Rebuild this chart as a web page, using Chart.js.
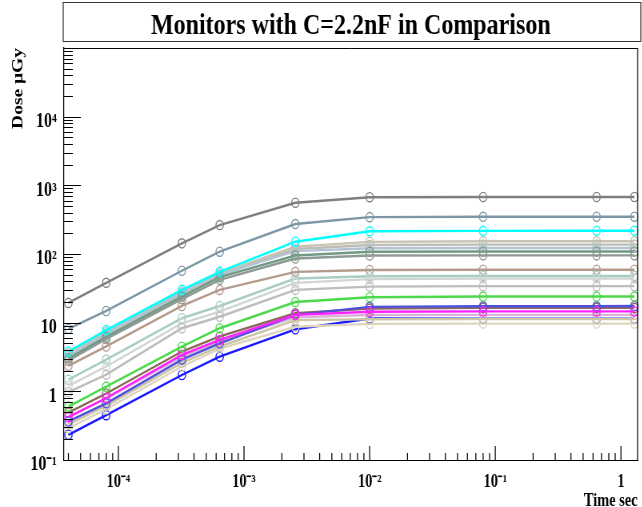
<!DOCTYPE html>
<html><head><meta charset="utf-8">
<script src="https://cdn.jsdelivr.net/npm/chart.js@4/dist/chart.umd.min.js"></script>
<style>
html,body{margin:0;padding:0;background:#fff;overflow:hidden;}
#wrap{position:absolute;left:0;top:0;width:803px;height:507px;transform:scaleX(0.8);transform-origin:0 0;}
canvas{display:block;}
</style></head><body>
<div id="wrap"><canvas id="c" width="803" height="507"></canvas></div>
<script>
// ---- data ----
const times = [4e-5, 8e-5, 3.2e-4, 6.4e-4, 2.56e-3, 0.01, 0.08, 0.64, 1.28];

const darkGray       = [19.4, 38, 143, 264, 558, 672, 676, 676, 676];
const slateGray      = [8.1, 14.8, 57, 108, 273, 344, 348, 349, 349];
const cyan           = [3.8, 7.8, 30, 55, 151, 214, 217, 218, 218];
const beige          = [3.6, 7.3, 28, 52, 128, 150, 153, 153, 153];
const lightGrayBeige = [3.1, 6.6, 26, 49, 118, 135, 137, 137, 137];
const lightSteel     = [3.3, 6.9, 27, 50, 110, 121, 122, 122, 122];
const seaGreenGray   = [3.0, 6.2, 24, 46, 95, 108, 109, 109, 109];
const grayGreen      = [2.8, 5.8, 22, 42, 86, 95, 95.5, 95.5, 95.5];
const rosyBrown      = [2.35, 4.5, 17.5, 30, 55, 58.5, 59, 59, 59];
const paleTeal       = [1.48, 2.9, 11.6, 17.5, 44, 47.5, 48, 48, 48];
const paleGray       = [1.2, 2.3, 9.8, 14.5, 38, 43, 44, 44, 44];
const lightGray      = [0.97, 1.75, 8.3, 12.2, 30, 33.5, 34, 34, 34];
const green          = [0.60, 1.17, 4.47, 8.3, 20, 23.5, 24, 24, 24];
const brown          = [0.49, 0.93, 3.8, 6.3, 13.7, 16, 16.4, 16.4, 16.4];
const slateBlue      = [0.365, 0.67, 2.9, 5.0, 13, 17, 17.3, 17.3, 17.5];
const magenta        = [0.42, 0.8, 3.4, 5.6, 13, 14.4, 14.6, 14.6, 14.6];
const pink           = [0.43, 0.78, 3.2, 5.3, 12, 12.9, 13, 13, 13];
const khaki          = [0.33, 0.62, 2.6, 4.5, 10.9, 11.2, 11.3, 11.3, 11.3];
const lightKhaki     = [0.29, 0.55, 2.3, 4.2, 8.7, 9.6, 9.7, 9.7, 9.7];
const blue           = [0.233, 0.45, 1.73, 3.2, 8.0, 11.5, 11.4, 11.4, 11.4];

// drawing order: first entry ends up on top
const seriesValues = [cyan, green, magenta, slateBlue, brown, darkGray, slateGray,
  khaki, lightKhaki, pink, blue, lightGray, paleGray, paleTeal, rosyBrown,
  grayGreen, seaGreenGray, lightSteel, lightGrayBeige, beige];
const seriesColors = ['#00ffff', '#4cd94c', '#ff22ff', '#5050dd', '#8b6a5a', '#7f7f7f', '#7d97a5',
  '#cbc5a5', '#dcd6c0', '#d7b4d7', '#1a1aff', '#bdbdbd', '#cfd6d3', '#a9cdc3', '#b49a8c',
  '#8e9a93', '#6f9a84', '#b3c3d3', '#bdbdb5', '#c9c3b3'];

const xTickValues = [1e-4, 1e-3, 1e-2, 1e-1, 1];
const xTickLabels = ['10\u207B\u2074', '10\u207B\u00B3', '10\u207B\u00B2', '10\u207B\u00B9', '1'];
const yTickValues = [0.1, 1, 10, 100, 1000, 10000];
const yTickLabels = ['10\u207B\u00B9', '1', '10', '10\u00B2', '10\u00B3', '10\u2074'];

const titleText = 'Monitors with C=2.2nF in Comparison';
const xTitle = 'Time sec';
const yTitle = 'Dose \u03BCGy';

// ---- drawing ----
const serif = '"Liberation Serif","Times New Roman",serif';

function labelFor(values, labels, v) {
  for (let i = 0; i < values.length; i++) if (Math.abs(values[i] - v) / values[i] < 1e-6) return labels[i];
  return '';
}

const deco = {
  id: 'deco',
  afterDraw(chart) {
    const ctx = chart.ctx, a = chart.chartArea;
    const xs = chart.scales.x, ys = chart.scales.y;
    ctx.save();
    ctx.strokeStyle = '#000';
    ctx.lineWidth = 1;
    ctx.beginPath(); ctx.moveTo(a.left, a.top + 0.5); ctx.lineTo(a.right, a.top + 0.5); ctx.stroke();
    ctx.lineWidth = 1.25;
    ctx.beginPath(); ctx.moveTo(a.right, a.top); ctx.lineTo(a.right, a.bottom); ctx.stroke();
    // y ticks (inward)
    ctx.lineWidth = 1;
    for (let k = -1; k <= 5; k++) for (let m = 1; m <= 9; m++) {
      const v = m * Math.pow(10, k);
      if (v < ys.min * 0.999 || v > ys.max * 1.001) continue;
      const y = Math.round(ys.getPixelForValue(v)) + 0.5;
      const len = m === 1 ? 21 : 11;
      ctx.beginPath(); ctx.moveTo(a.left, y); ctx.lineTo(a.left + len, y); ctx.stroke();
    }
    // x ticks (inward)
    ctx.lineWidth = 1.25;
    for (let k = -5; k <= 0; k++) for (let m = 1; m <= 9; m++) {
      const v = m * Math.pow(10, k);
      if (v < xs.min || v > xs.max) continue;
      const x = xs.getPixelForValue(v);
      const len = m === 1 ? 14 : 7;
      ctx.beginPath(); ctx.moveTo(x, a.bottom); ctx.lineTo(x, a.bottom - len); ctx.stroke();
    }
    // title box
    ctx.strokeStyle = '#333';
    ctx.lineWidth = 1;
    ctx.beginPath(); ctx.moveTo(79, 2.5); ctx.lineTo(801, 2.5); ctx.moveTo(79, 41.5); ctx.lineTo(801, 41.5); ctx.stroke();
    ctx.lineWidth = 1.25;
    ctx.beginPath(); ctx.moveTo(79, 2); ctx.lineTo(79, 42); ctx.moveTo(801, 2); ctx.lineTo(801, 42); ctx.stroke();
    ctx.fillStyle = '#000';
    ctx.font = 'bold 30px ' + serif;
    ctx.textAlign = 'center';
    ctx.textBaseline = 'alphabetic';
    ctx.fillText(titleText, 438.5, 34);
    ctx.restore();
  }
};

new Chart(document.getElementById('c'), {
  type: 'line',
  data: {
    datasets: seriesValues.map((vals, i) => ({
      data: times.map((t, j) => ({ x: t, y: vals[j] })),
      borderColor: seriesColors[i],
      pointBorderColor: seriesColors[i],
      backgroundColor: 'rgba(0,0,0,0)',
      pointBackgroundColor: 'rgba(0,0,0,0)',
      borderWidth: 2.4,
      pointRadius: 4.6,
      pointBorderWidth: 1.4,
      tension: 0,
      fill: false,
      clip: false
    }))
  },
  options: {
    responsive: false,
    animation: false,
    devicePixelRatio: 1,
    layout: { padding: { top: 48, right: 4, left: 0, bottom: 0 } },
    plugins: { legend: { display: false }, tooltip: { enabled: false }, title: { display: false } },
    scales: {
      x: {
        type: 'logarithmic', position: 'bottom', min: 3.69e-5, max: 1.357,
        grid: { display: false, drawTicks: false },
        border: { display: true, color: '#000', width: 1 },
        afterBuildTicks: sc => { sc.ticks = xTickValues.map(v => ({ value: v })); },
        afterFit: sc => { sc.height = 47; },
        ticks: {
          callback: v => labelFor(xTickValues, xTickLabels, v),
          font: { family: serif, size: 18, weight: 'bold' }, color: '#000',
          padding: 12, maxRotation: 0, autoSkip: false
        },
        title: { display: true, text: xTitle, align: 'end', color: '#000',
          font: { family: serif, size: 18, weight: 'bold', lineHeight: 0.667 }, padding: 0 }
      },
      y: {
        type: 'logarithmic', position: 'left', min: 0.1, max: 1e5,
        grid: { display: false, drawTicks: false },
        border: { display: true, color: '#000', width: 1.25 },
        afterBuildTicks: sc => { sc.ticks = yTickValues.map(v => ({ value: v })); },
        afterFit: sc => { sc.width = 80; },
        ticks: {
          callback: v => labelFor(yTickValues, yTickLabels, v),
          font: { family: serif, size: 20, weight: 'bold' }, color: '#000',
          padding: 9, labelOffset: 5, autoSkip: false
        },
        title: { display: true, text: yTitle, align: 'end', color: '#000',
          font: { family: serif, size: 19.5, weight: 'bold' }, padding: { top: 11, bottom: 0 } }
      }
    }
  },
  plugins: [deco]
});
</script>
</body></html>
